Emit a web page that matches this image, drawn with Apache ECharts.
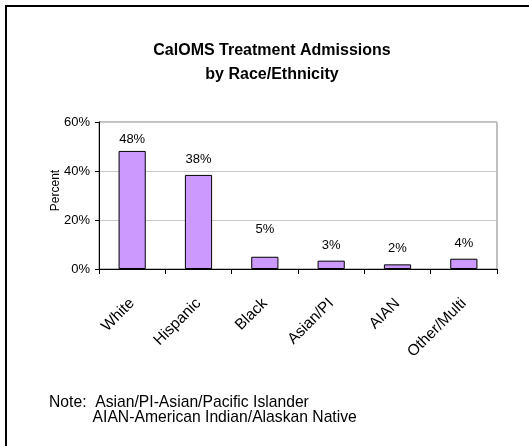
<!DOCTYPE html>
<html>
<head>
<meta charset="utf-8">
<script src="https://cdn.jsdelivr.net/npm/echarts@6/dist/echarts.min.js"></script>
<style>
html,body{margin:0;padding:0;background:#fff;}
#chart{width:529px;height:446px;}
</style>
</head>
<body>
<div id="chart"></div>
<script>
// ---- data ----
var categories = ['White', 'Hispanic', 'Black', 'Asian/PI', 'AIAN', 'Other/Multi'];
var percentValues = [48.2, 38.4, 5.0, 3.4, 1.9, 4.2];
var yTicks = [0, 20, 40, 60];
var titleLines = ['CalOMS Treatment Admissions', 'by Race/Ethnicity'];
var noteLines = ['Note:  Asian/PI-Asian/Pacific Islander', '          AIAN-American Indian/Alaskan Native'];

// ---- style ----
var FONT = '"Liberation Sans", Arial, sans-serif';
var labelDistance = [5, 9, 21, 9, 9, 9];

var chart = echarts.init(document.getElementById('chart'), null, {renderer: 'canvas'});
var option = {
  backgroundColor: '#ffffff',
  animation: false,
  title: {
    text: titleLines.join('\n'),
    left: 272,
    top: 39,
    padding: 0,
    textAlign: 'center',
    textStyle: {fontFamily: FONT, fontSize: 16, fontWeight: 'bold', color: '#000', lineHeight: 24}
  },
  grid: {
    left: 99, right: 32, top: 122, bottom: 177,
    show: true, borderColor: '#808080', borderWidth: 1, backgroundColor: 'transparent'
  },
  xAxis: {
    type: 'category',
    data: categories,
    axisLine: {lineStyle: {color: '#000', width: 1}},
    axisTick: {show: true, length: 5, alignWithLabel: false, lineStyle: {color: '#000'}},
    axisLabel: {rotate: 45, margin: 32, interval: 0, fontFamily: FONT, fontSize: 15.5, color: '#000'},
    splitLine: {show: false}
  },
  yAxis: {
    type: 'value',
    min: yTicks[0], max: yTicks[yTicks.length - 1], interval: 20,
    name: 'Percent',
    nameLocation: 'middle',
    nameGap: 37,
    nameMoveOverlap: false,
    nameRotate: 90,
    nameTextStyle: {fontFamily: FONT, fontSize: 12, color: '#000', padding: [0, 0, 0, 10]},
    axisLine: {show: true, lineStyle: {color: '#000', width: 1}},
    axisTick: {show: true, length: 4, lineStyle: {color: '#000'}},
    axisLabel: {formatter: '{value}%', margin: 9, fontFamily: FONT, fontSize: 13, color: '#000'},
    splitLine: {show: true, lineStyle: {color: '#c8c8c8', width: 1}}
  },
  series: [{
    type: 'bar',
    data: percentValues.map(function (v, i) {
      return {value: v, label: {distance: labelDistance[i]}};
    }),
    barWidth: '41%',
    itemStyle: {color: '#CC99FF', borderColor: '#000', borderWidth: 1},
    label: {
      show: true, position: 'top',
      formatter: function (p) { return Math.round(p.value) + '%'; },
      fontFamily: FONT, fontSize: 13, color: '#000'
    }
  }],
  graphic: [
    {type: 'rect', shape: {x: 6, y: 6, width: 700, height: 700}, style: {fill: 'none', stroke: '#000', lineWidth: 2}, silent: true},
    {type: 'text', x: 49, y: 395, style: {text: noteLines.join('\n'), font: '15.7px ' + FONT, fill: '#000', lineHeight: 15}}
  ]
};
chart.setOption(option);
</script>
</body>
</html>
